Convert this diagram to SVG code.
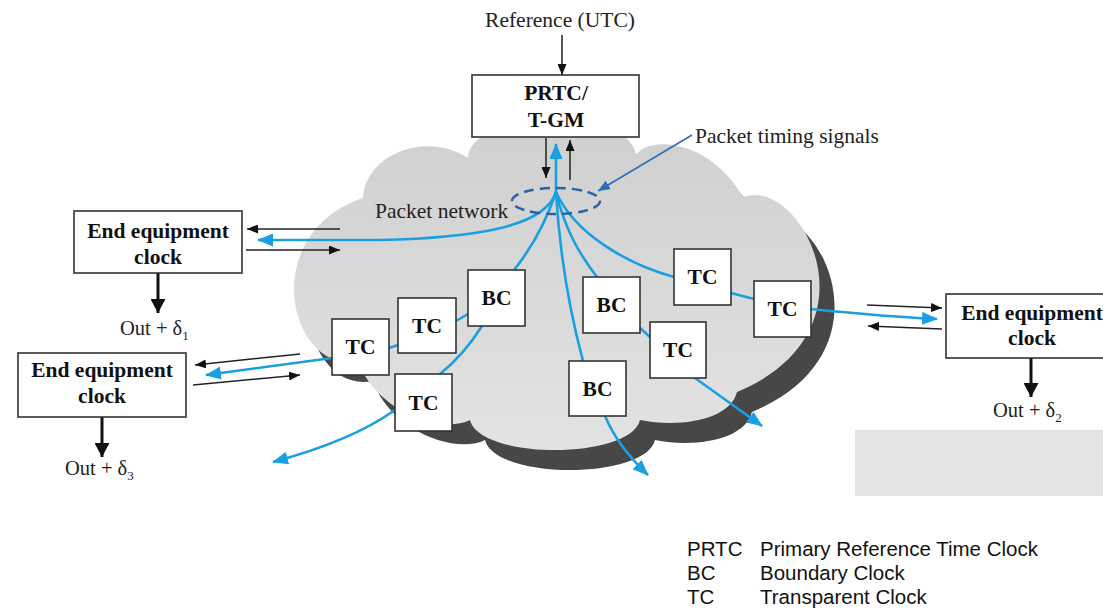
<svg xmlns="http://www.w3.org/2000/svg" width="1103" height="613" viewBox="0 0 1103 613">
<defs>
<style>
.box{fill:#fff;stroke:#333;stroke-width:1.6}
.lbl{font-family:"Liberation Serif","Times New Roman",serif;font-weight:bold;font-size:21.5px;fill:#111;text-anchor:middle}
.txt{font-family:"Liberation Serif","Times New Roman",serif;font-size:21.5px;fill:#222}
.out{font-family:"Liberation Serif","Times New Roman",serif;font-size:20.5px;fill:#222}
.leg{font-family:"Liberation Sans",Arial,sans-serif;font-size:20.5px;fill:#111}
.blue{fill:none;stroke:#1aa0e0;stroke-width:2.6}
.blk{fill:none;stroke:#222;stroke-width:1.5}
.thick{fill:none;stroke:#111;stroke-width:3}
</style>
<linearGradient id="cg" x1="0" y1="0" x2="0" y2="1">
<stop offset="0" stop-color="#cfcfcf"/>
<stop offset="1" stop-color="#e3e3e3"/>
</linearGradient>
<path id="cloudPath" d="M358,361 C290,375 255,235 363,198 C365,155 425,130 468,158 C470,110 630,105 636,155 C650,135 710,140 743,197 C800,175 885,330 737,392 C730,420 680,428 640,420 C630,460 480,460 470,420 C440,435 375,410 358,361 Z"/>
<marker id="aBlue" markerUnits="userSpaceOnUse" markerWidth="16" markerHeight="13" refX="15" refY="6.5" orient="auto"><path d="M0,0 L16,6.5 L0,13 Z" fill="#1aa0e0"/></marker>
<marker id="aBlk" markerUnits="userSpaceOnUse" markerWidth="11" markerHeight="9" refX="11" refY="4.5" orient="auto"><path d="M0,0 L11,4.5 L0,9 Z" fill="#111"/></marker>
<marker id="aBig" markerUnits="userSpaceOnUse" markerWidth="14" markerHeight="15" refX="14" refY="7.5" orient="auto"><path d="M0,0 L14,7.5 L0,15 Z" fill="#111"/></marker>
<marker id="aDark" markerUnits="userSpaceOnUse" markerWidth="12" markerHeight="10" refX="12" refY="5" orient="auto"><path d="M0,0 L12,5 L0,10 Z" fill="#2d6db5"/></marker>
</defs>
<rect width="1103" height="613" fill="#fff"/>
<rect x="855" y="430" width="248" height="66" fill="#e4e4e4"/>

<g id="cloud">
<use href="#cloudPath" transform="translate(15,20)" fill="#474747"/>
<use href="#cloudPath" fill="url(#cg)"/>
</g>

<g id="connectors">
<path class="blue" d="M556,192 C545,228 470,238 380,240 L258,240" marker-end="url(#aBlue)"/>
<path class="blue" d="M556,192 C545,225 530,250 514,270"/>
<path class="blue" d="M556,192 C560,260 572,320 583,361"/>
<path class="blue" d="M556,192 C565,230 580,255 597,277"/>
<path class="blue" d="M556,192 C575,235 630,265 674,277"/>
<path class="blue" d="M556,192 L556,144" marker-end="url(#aBlue)"/>
<path class="blue" d="M468,314 L456,321"/>
<path class="blue" d="M398,345 L389,348"/>
<path class="blue" d="M332,358 L206,375" marker-end="url(#aBlue)"/>
<path class="blue" d="M482,326 C470,345 455,362 440,374"/>
<path class="blue" d="M395,410 C360,435 310,452 273,462" marker-end="url(#aBlue)"/>
<path class="blue" d="M640,328 L650,337"/>
<path class="blue" d="M695,378 L762,426" marker-end="url(#aBlue)"/>
<path class="blue" d="M605,416 C615,440 630,458 648,475" marker-end="url(#aBlue)"/>
<path class="blue" d="M731,293 L754,299"/>
<path class="blue" d="M811,309 C850,313 890,317 937,319" marker-end="url(#aBlue)"/>
<ellipse cx="556" cy="201" rx="44" ry="13" fill="none" stroke="#2663a8" stroke-width="2.5" stroke-dasharray="10 6"/>
<path d="M692,135 L598,191" fill="none" stroke="#2d6db5" stroke-width="1.6" marker-end="url(#aDark)"/>
<path class="blk" d="M562,35 L562,75" marker-end="url(#aBlk)"/>
<path class="blk" d="M546,138 L546,178" marker-end="url(#aBlk)"/>
<path class="blk" d="M570,180 L570,140" marker-end="url(#aBlk)"/>
<path class="blk" d="M340,229 L247,229" marker-end="url(#aBlk)"/>
<path class="blk" d="M246,250 L340,250" marker-end="url(#aBlk)"/>
<path class="blk" d="M300,354 L195,365" marker-end="url(#aBlk)"/>
<path class="blk" d="M193,385 L300,375" marker-end="url(#aBlk)"/>
<path class="blk" d="M867,305 L942,308" marker-end="url(#aBlk)"/>
<path class="blk" d="M942,329 L868,326" marker-end="url(#aBlk)"/>
<path class="thick" d="M158,273 L158,313" marker-end="url(#aBig)"/>
<path class="thick" d="M102,417 L102,457" marker-end="url(#aBig)"/>
<path class="thick" d="M1031,358 L1031,397" marker-end="url(#aBig)"/>
</g>

<text class="txt" x="560" y="27" text-anchor="middle">Reference (UTC)</text>
<text class="txt" x="695" y="143" font-size="22.5">Packet timing signals</text>
<text class="txt" x="375" y="218">Packet network</text>

<g id="prtc"><rect class="box" x="472" y="75" width="167" height="62"/><text class="lbl" x="556" y="100">PRTC/</text><text class="lbl" x="556" y="127">T-GM</text></g>
<g id="eec1"><rect class="box" x="74" y="211" width="168" height="62"/><text class="lbl" x="158" y="238">End equipment</text><text class="lbl" x="158" y="264">clock</text></g>
<g id="eec2"><rect class="box" x="18" y="353" width="168" height="64"/><text class="lbl" x="102" y="377">End equipment</text><text class="lbl" x="102" y="403">clock</text></g>
<g id="eec3"><rect class="box" x="946" y="294" width="175" height="64"/><text class="lbl" x="1032" y="320">End equipment</text><text class="lbl" x="1032" y="345">clock</text></g>

<g id="tc1"><rect class="box" x="332" y="319" width="57" height="56"/><text class="lbl" x="360.5" y="354">TC</text></g>
<g id="tc2"><rect class="box" x="398" y="298" width="58" height="55"/><text class="lbl" x="427" y="333">TC</text></g>
<g id="bc1"><rect class="box" x="468" y="270" width="57" height="56"/><text class="lbl" x="496.5" y="305">BC</text></g>
<g id="tc3"><rect class="box" x="395" y="374" width="57" height="57"/><text class="lbl" x="423.5" y="410">TC</text></g>
<g id="bc2"><rect class="box" x="583" y="277" width="57" height="56"/><text class="lbl" x="611.5" y="312">BC</text></g>
<g id="tc4"><rect class="box" x="674" y="249" width="57" height="56"/><text class="lbl" x="702.5" y="284">TC</text></g>
<g id="tc5"><rect class="box" x="754" y="281" width="57" height="56"/><text class="lbl" x="782.5" y="316">TC</text></g>
<g id="tc6"><rect class="box" x="650" y="322" width="56" height="56"/><text class="lbl" x="678" y="357">TC</text></g>
<g id="bc3"><rect class="box" x="569" y="361" width="57" height="55"/><text class="lbl" x="597.5" y="396">BC</text></g>

<text class="out" x="120" y="335">Out + δ<tspan font-size="13" dy="5">1</tspan></text>
<text class="out" x="993" y="417">Out + δ<tspan font-size="13" dy="5">2</tspan></text>
<text class="out" x="65" y="475">Out + δ<tspan font-size="13" dy="5">3</tspan></text>

<g id="legend">
<text class="leg" x="687" y="556">PRTC</text><text class="leg" x="760" y="556">Primary Reference Time Clock</text>
<text class="leg" x="687" y="580">BC</text><text class="leg" x="760" y="580">Boundary Clock</text>
<text class="leg" x="687" y="604">TC</text><text class="leg" x="760" y="604">Transparent Clock</text>
</g>
</svg>
